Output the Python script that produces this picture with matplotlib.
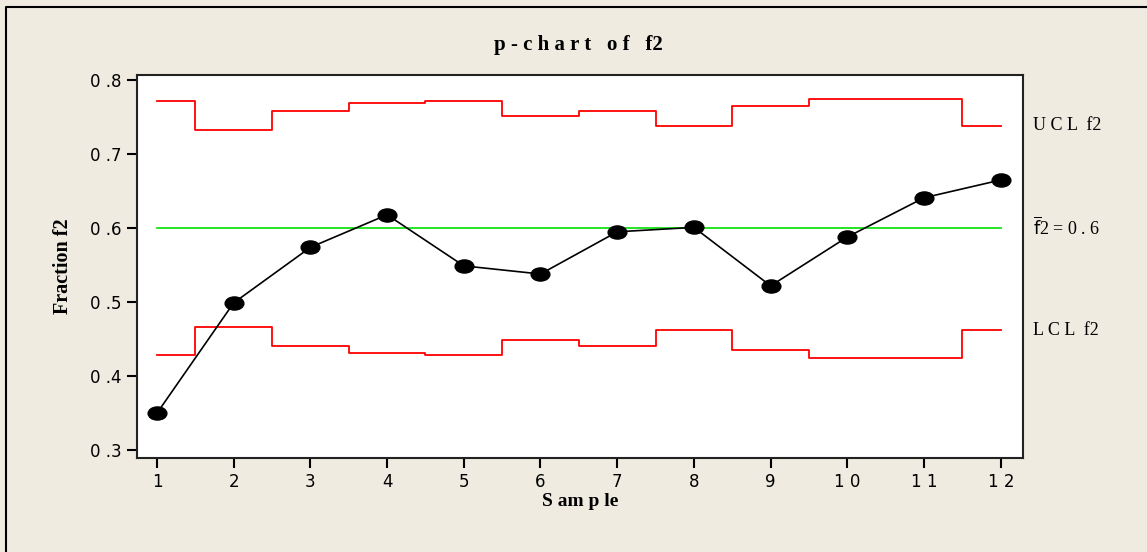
import matplotlib
matplotlib.use("Agg")
import matplotlib.pyplot as plt
import numpy as np
from matplotlib.path import Path
from matplotlib.lines import Line2D

# p-chart data
samples = [1, 2, 3, 4, 5, 6, 7, 8, 9, 10, 11, 12]
fraction = [0.350, 0.499, 0.574, 0.618, 0.549, 0.538,
            0.595, 0.601, 0.522, 0.588, 0.641, 0.665]
ucl = [0.772, 0.732, 0.758, 0.769, 0.772, 0.751,
       0.758, 0.738, 0.765, 0.774, 0.774, 0.738]
lcl = [0.428, 0.467, 0.441, 0.431, 0.428, 0.449,
       0.441, 0.462, 0.435, 0.425, 0.425, 0.462]
center = 0.6

yticks = [0.3, 0.4, 0.5, 0.6, 0.7, 0.8]
ytick_labels = ["0 .3", "0 .4", "0 .5", "0 .6", "0 .7", "0 .8"]

BG = "#efebe1"
SERIF = "Liberation Serif"


def step_coords(xs, vals):
    # limits change half way between samples, clipped at the first/last sample
    sx, sy = [], []
    for i, (x, v) in enumerate(zip(xs, vals)):
        left = x if i == 0 else x - 0.5
        right = x if i == len(xs) - 1 else x + 0.5
        sx += [left, right]
        sy += [v, v]
    return sx, sy


fig = plt.figure(figsize=(11.47, 5.52), dpi=100, facecolor=BG)
# outer frame: only left and top edges are visible in the reference
fx, fy = 5.5 / 1147, 1 - 6.5 / 552
fig.lines.append(Line2D([fx, fx, 1.0], [0.0, fy, fy], transform=fig.transFigure,
                        color="black", linewidth=1.5))

ax = fig.add_axes([137 / 1147, 1 - 458 / 552, 886 / 1147, 383 / 552])
ax.set_facecolor("white")

ux, uy = step_coords(samples, ucl)
lx, ly = step_coords(samples, lcl)
ax.plot(ux, uy, color="#ff0000", linewidth=1.3)
ax.plot(lx, ly, color="#ff0000", linewidth=1.3)
ax.plot([samples[0], samples[-1]], [center, center], color="#00e000", linewidth=1.2)

# elliptical marker like the original
circle = Path.unit_circle()
ellipse = Path(circle.vertices * np.array([1.0, 0.7]), circle.codes)
ax.plot(samples, fraction, color="black", linewidth=1.2,
        marker=ellipse, markersize=13.5, markerfacecolor="black",
        markeredgecolor="black")

ax.set_xlim(0.74, 12.29)
ax.set_ylim(0.2895, 0.8068)
ax.set_xticks(samples)
ax.set_xticklabels([str(s) if s < 10 else " ".join(str(s)) for s in samples])
ax.set_yticks(yticks)
ax.set_yticklabels(ytick_labels)
ax.tick_params(axis="both", direction="out", length=7, width=1.5,
               labelsize=12, pad=4, colors="black")
ax.tick_params(top=False, right=False)
for spine in ax.spines.values():
    spine.set_linewidth(1.5)
    spine.set_color("#222222")

ax.set_xlabel("S am p le", family=SERIF, fontweight="bold", fontsize=14, labelpad=1)
ax.set_ylabel("Fraction f2", family=SERIF, fontweight="bold", fontsize=14.5,
              labelpad=12)
fig.text(578 / 1147, 1 - 45 / 552, "p - c h a r t   o f   f2", family=SERIF,
         fontweight="bold", fontsize=15, ha="center", va="center")

# limit labels on the right
lab_x = 12.29 + 10 / 76.7
ax.text(lab_x, ucl[-1], "U C L  f2", family=SERIF, fontsize=13, va="center",
        clip_on=False)
ax.text(lab_x, center, r"$\overline{\mathrm{f}}$2 = 0 . 6", family=SERIF,
        fontsize=13, va="center", clip_on=False)
ax.text(lab_x, lcl[-1], "L C L  f2", family=SERIF, fontsize=13, va="center",
        clip_on=False)

fig.savefig("out.png", dpi=100, facecolor=BG)
